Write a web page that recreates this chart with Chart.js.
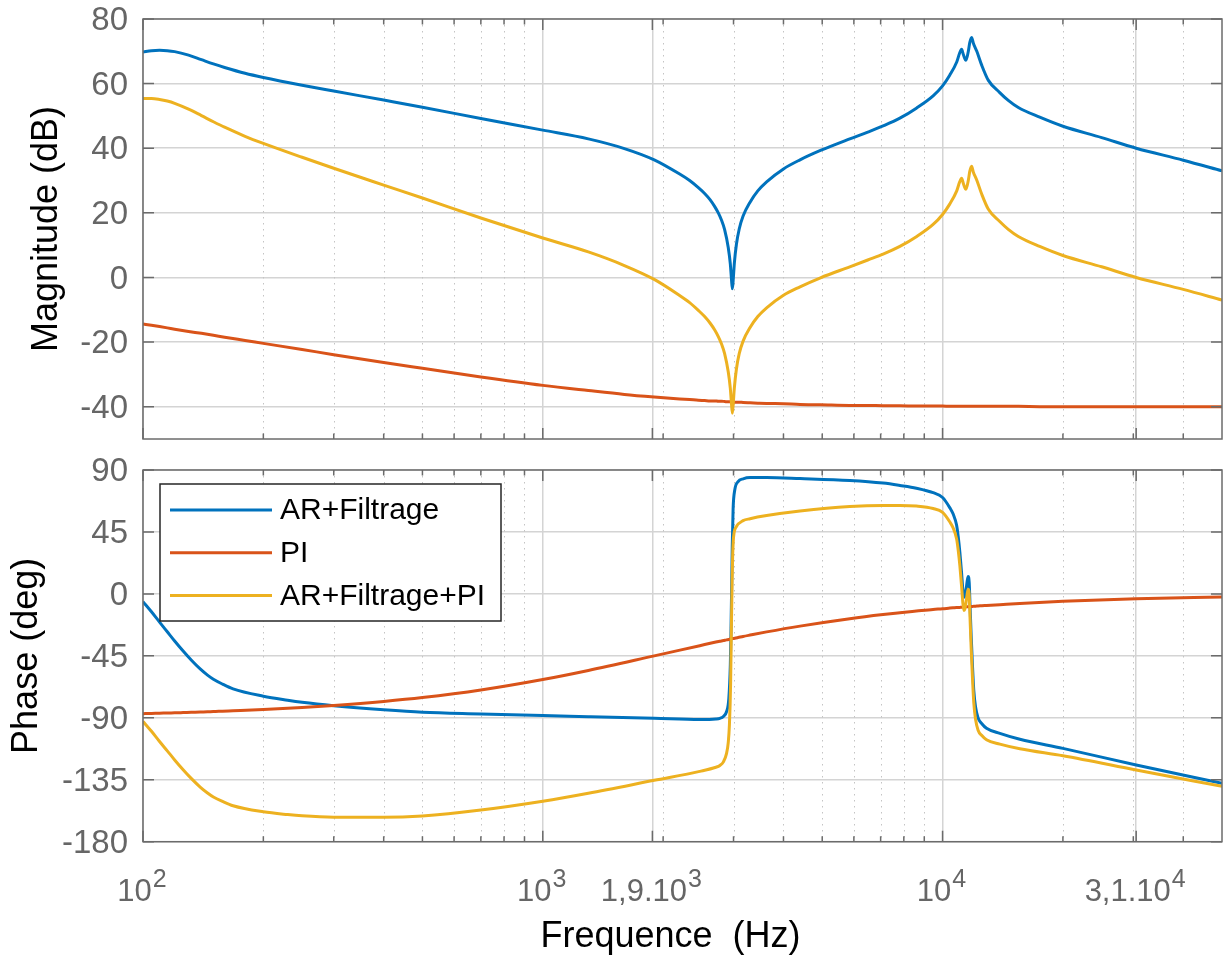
<!DOCTYPE html>
<html>
<head>
<meta charset="utf-8">
<script src="https://cdn.jsdelivr.net/npm/chart.js@4.4.0/dist/chart.umd.min.js"></script>
<style>
  body { margin: 0; background: #fff; }
  #wrap { position: relative; width: 1223px; height: 956px; }
  #magChart { position: absolute; left: 0; top: 0; }
  #phaseChart { position: absolute; left: 0; top: 452px; }
</style>
</head>
<body>
<div id="wrap">
  <canvas id="magChart" width="1223" height="452"></canvas>
  <canvas id="phaseChart" width="1223" height="504"></canvas>
</div>
<script>
// ---- data ----
const seriesNames = ["AR+Filtrage", "PI", "AR+Filtrage+PI"];
const seriesColors = ["#0072BD", "#D95319", "#EDB120"];

// magnitude (dB)
const magFreq = [100, 105, 110, 115, 120, 130, 140, 150, 160, 180, 200, 250, 300, 400, 500,
  700, 1000, 1300, 1600, 1900, 2200, 2330, 2450, 2540, 2620, 2690, 2750, 2800, 2850, 2910,
  2945, 2965, 2980, 2995, 3015, 3050, 3100, 3170, 3300, 3450, 3630, 4000, 4400, 4950, 5860,
  6500, 7100, 7820, 8600, 9470, 10000, 10420, 10850, 11030, 11160, 11270, 11440, 11600, 11700, 11820,
  11940, 12180, 12520, 13020, 13880, 14600, 15470, 17500, 20000, 25000, 30500, 40000, 50000];
const magAR = [69.8, 70.2, 70.3, 70.2, 69.9, 68.8, 67.4, 66.1, 65.0, 63.2, 61.9, 59.5, 57.7, 54.9, 52.7,
  49.2, 45.6, 42.9, 39.9, 36.4, 32.0, 30.0, 27.8, 26.0, 24.1, 22.0, 19.9, 17.7, 14.8, 9.3,
  4.2, -0.6, -3.5, -0.6, 4.6, 10.2, 15.0, 19.0, 23.3, 26.8, 29.6, 33.6, 36.4, 39.3, 42.9,
  45.0, 46.9, 49.3, 52.4, 56.2, 59.3, 62.6, 66.7, 69.4, 70.6, 69.0, 67.2, 70.0, 72.8, 74.3,
  72.5, 70.0, 65.8, 61.0, 57.3, 54.8, 52.6, 49.6, 46.8, 43.3, 40.0, 36.3, 33.0];
const magPI = [-14.4, -14.8, -15.2, -15.6, -16.0, -16.7, -17.3, -17.9, -18.5, -19.5, -20.4, -22.3, -23.9, -26.3, -28.1,
  -30.8, -33.4, -35.0, -36.2, -37.0, -37.6, -37.8, -38.0, -38.1, -38.2, -38.2, -38.3, -38.3, -38.4, -38.5,
  -38.5, -38.5, -38.5, -38.5, -38.6, -38.6, -38.6, -38.7, -38.8, -38.9, -39.0, -39.1, -39.3, -39.4, -39.6,
  -39.6, -39.7, -39.7, -39.8, -39.8, -39.8, -39.9, -39.9, -39.9, -39.9, -39.9, -39.9, -39.9, -39.9, -39.9,
  -39.9, -39.9, -39.9, -39.9, -39.9, -39.9, -39.9, -40.0, -40.0, -40.0, -40.0, -40.0, -40.0];
const magTotal = [55.4, 55.4, 55.1, 54.6, 53.9, 52.1, 50.1, 48.2, 46.5, 43.7, 41.5, 37.2, 33.8, 28.6, 24.6,
  18.4, 12.2, 7.9, 3.7, -0.6, -5.6, -7.8, -10.2, -12.1, -14.1, -16.2, -18.4, -20.6, -23.6, -29.2,
  -34.3, -39.1, -42.0, -39.1, -34.0, -28.4, -23.6, -19.7, -15.5, -12.1, -9.4, -5.5, -2.9, -0.1, 3.3,
  5.4, 7.2, 9.6, 12.6, 16.4, 19.5, 22.7, 26.8, 29.5, 30.7, 29.1, 27.3, 30.1, 32.9, 34.4,
  32.6, 30.1, 25.9, 21.1, 17.4, 14.9, 12.7, 9.6, 6.8, 3.3, 0.0, -3.7, -7.0];

// phase (deg)
const phaseFreq = [100, 105, 110, 115, 120, 126, 132, 139, 145, 150, 158, 168, 200, 230, 250,
  300, 400, 500, 700, 1000, 1300, 1900, 2470, 2710, 2773, 2830, 2881, 2920, 2945, 2955,
  2966, 2978, 2993, 3022, 3080, 3170, 3300, 3630, 4400, 5860, 7100, 7820, 8600, 9470, 10000,
  10430, 10630, 10840, 10940, 11050, 11160, 11240, 11310, 11370, 11460, 11520, 11590, 11660, 11720, 11790,
  11880, 11970, 12090, 12270, 12540, 12880, 13910, 15610, 20000, 30500, 50000];
const phaseAR = [-5.6, -13.0, -20.5, -27.5, -34.2, -41.5, -48.0, -54.5, -59.0, -62.0, -65.5, -69.0, -74.3, -77.2, -78.7,
  -81.2, -84.2, -86.0, -87.2, -88.4, -89.2, -90.4, -91.3, -90.9, -90.4, -89.0, -85.6, -75.8, -51.6, -30.0,
  0.0, 35.0, 62.0, 75.6, 81.6, 83.6, 84.5, 84.5, 83.8, 82.4, 80.5, 78.8, 76.8, 73.5, 70.0,
  62.5, 58.0, 50.0, 42.0, 30.0, 15.0, 3.0, -2.5, -1.5, 4.0, 9.0, 12.6, 8.0, -10.0, -30.0,
  -52.0, -70.0, -82.0, -90.2, -94.3, -97.6, -101.3, -105.6, -112.2, -124.3, -137.6];
const phasePI = [-87.0, -86.8, -86.7, -86.5, -86.4, -86.2, -86.0, -85.8, -85.6, -85.5, -85.2, -84.9, -84.0, -83.1, -82.5,
  -81.0, -78.1, -75.3, -69.8, -62.2, -55.6, -45.0, -37.6, -35.0, -34.4, -33.9, -33.4, -33.1, -32.8, -32.7,
  -32.6, -32.5, -32.4, -32.2, -31.7, -30.9, -29.9, -27.6, -23.4, -18.0, -15.0, -13.7, -12.5, -11.3, -10.8,
  -10.3, -10.1, -9.9, -9.9, -9.8, -9.7, -9.6, -9.5, -9.5, -9.4, -9.4, -9.3, -9.3, -9.2, -9.2,
  -9.1, -9.0, -8.9, -8.8, -8.6, -8.4, -7.8, -6.9, -5.4, -3.6, -2.2];
const phaseFreqTotal = [100, 105, 110, 115, 120, 126, 132, 139, 145, 150, 158, 168, 200, 230, 250,
  300, 400, 500, 700, 1000, 1300, 1900, 2470, 2710, 2773, 2830, 2881, 2910, 2930, 2950,
  2963, 2975, 2985, 2995, 3010, 3051, 3170, 3300, 3630, 4400, 5860, 7100, 7820, 8600, 9470,
  10000, 10430, 10630, 10840, 10940, 11050, 11160, 11240, 11310, 11370, 11460, 11520, 11590, 11660, 11720,
  11790, 11880, 11970, 12090, 12270, 12540, 12880, 13910, 15610, 20000, 30500, 50000];
const phaseTotal = [-92.6, -99.8, -107.2, -114.0, -120.6, -127.7, -134.0, -140.3, -144.6, -147.5, -150.7, -153.9, -158.3, -160.3, -161.2,
  -162.2, -162.3, -161.3, -157.0, -150.6, -144.8, -135.4, -128.9, -125.9, -124.6, -122.0, -116.0, -108.0, -95.0, -65.0,
  -25.0, 8.0, 28.0, 38.0, 44.5, 49.0, 53.2, 54.6, 56.9, 60.2, 63.5, 64.3, 64.3, 63.8, 62.0,
  59.2, 52.2, 47.9, 40.1, 32.1, 20.2, 5.3, -6.6, -12.0, -11.0, -5.4, -0.4, 3.3, -1.3, -19.2,
  -39.2, -61.1, -79.0, -90.9, -99.0, -102.9, -106.0, -109.1, -112.5, -117.6, -127.9, -139.8];

// axis ticks
const freqTicks = [100, 1000, 1880, 10000, 30500];
const freqTickBase = ["10", "10", "1,9.10", "10", "3,1.10"];
const freqTickExp = ["2", "3", "3", "4", "4"];
const magTicks = [-40, -20, 0, 20, 40, 60, 80];
const phaseTicks = [-180, -135, -90, -45, 0, 45, 90];

// minor log ticks 2..9 per decade
const minorFreq = [];
for (let d = 100; d < 50000; d *= 10) {
  for (let m = 2; m <= 9; m++) {
    if (d * m < 50000) minorFreq.push(d * m);
  }
}

const family = "'Liberation Sans', Arial, Helvetica, sans-serif";
const tickColor = "#666666";
const frameColor = "#6b6b6b";
const gridColor = "#d4d4d4";
Chart.defaults.font.family = family;

function points(xs, ys) {
  return xs.map((x, i) => ({ x: x, y: ys[i] }));
}

function series(i, xs, ys) {
  return {
    label: seriesNames[i],
    data: points(xs, ys),
    borderColor: seriesColors[i],
    backgroundColor: seriesColors[i],
    order: 3 - i
  };
}

// box, inward ticks and dotted minor grid (MATLAB style)
const framePlugin = {
  id: "frame",
  beforeDatasetsDraw(chart) {
    const { ctx, chartArea: a } = chart;
    const x = chart.scales.x;
    ctx.save();
    ctx.strokeStyle = "#c4c4c4";
    ctx.lineWidth = 1;
    ctx.setLineDash([1.5, 4.5]);
    minorFreq.forEach(f => {
      const px = Math.round(x.getPixelForValue(f)) + 0.5;
      ctx.beginPath();
      ctx.moveTo(px, a.top);
      ctx.lineTo(px, a.bottom);
      ctx.stroke();
    });
    ctx.restore();
  },
  afterDatasetsDraw(chart) {
    const { ctx, chartArea: a } = chart;
    const x = chart.scales.x, y = chart.scales.y;
    ctx.save();
    ctx.strokeStyle = frameColor;
    ctx.lineWidth = 1.5;
    ctx.beginPath();
    freqTicks.forEach(f => {
      const px = x.getPixelForValue(f);
      ctx.moveTo(px, a.bottom); ctx.lineTo(px, a.bottom - 11);
      ctx.moveTo(px, a.top); ctx.lineTo(px, a.top + 11);
    });
    minorFreq.forEach(f => {
      const px = x.getPixelForValue(f);
      ctx.moveTo(px, a.bottom); ctx.lineTo(px, a.bottom - 5.5);
      ctx.moveTo(px, a.top); ctx.lineTo(px, a.top + 5.5);
    });
    y.ticks.forEach(t => {
      const py = y.getPixelForValue(t.value);
      ctx.moveTo(a.left, py); ctx.lineTo(a.left + 11, py);
      ctx.moveTo(a.right, py); ctx.lineTo(a.right - 11, py);
    });
    ctx.stroke();
    ctx.strokeRect(a.left, a.top, a.right - a.left, a.bottom - a.top);
    ctx.restore();
  }
};

// boxed legend in the top-left of the phase plot
const legendPlugin = {
  id: "boxLegend",
  afterDatasetsDraw(chart) {
    const ctx = chart.ctx;
    ctx.save();
    ctx.fillStyle = "#fff";
    ctx.fillRect(160, 32, 341, 137);
    ctx.strokeStyle = "#262626";
    ctx.lineWidth = 1.5;
    ctx.strokeRect(160, 32, 341, 137);
    ctx.font = "30px " + family;
    ctx.textBaseline = "middle";
    ctx.textAlign = "left";
    chart.data.datasets.forEach((ds, i) => {
      const yy = 58 + i * 42.7;
      ctx.strokeStyle = ds.borderColor;
      ctx.lineWidth = 3;
      ctx.beginPath();
      ctx.moveTo(170, yy);
      ctx.lineTo(272, yy);
      ctx.stroke();
      ctx.fillStyle = "#000";
      ctx.fillText(ds.label, 280, yy + 1);
    });
    ctx.restore();
  }
};

// x tick labels with exponents, and x axis title
const xLabelPlugin = {
  id: "xLabels",
  afterDraw(chart) {
    const { ctx, chartArea: a } = chart;
    const x = chart.scales.x;
    ctx.save();
    ctx.textBaseline = "alphabetic";
    ctx.textAlign = "left";
    ctx.fillStyle = tickColor;
    freqTicks.forEach((f, i) => {
      ctx.font = "31px " + family;
      const wb = ctx.measureText(freqTickBase[i]).width;
      ctx.font = "25px " + family;
      const ws = ctx.measureText(freqTickExp[i]).width;
      const left = x.getPixelForValue(f) - (wb + ws + 1) / 2 - 1;
      ctx.font = "31px " + family;
      ctx.fillText(freqTickBase[i], left, a.bottom + 59);
      ctx.font = "25px " + family;
      ctx.fillText(freqTickExp[i], left + wb + 1, a.bottom + 45);
    });
    ctx.font = "36px " + family;
    ctx.fillStyle = "#000";
    ctx.textAlign = "center";
    ctx.fillText("Frequence  (Hz)", (a.left + a.right) / 2 - 12, a.bottom + 105);
    ctx.restore();
  }
};

function makeChart(id, cfg) {
  return new Chart(document.getElementById(id), {
    type: "line",
    data: { datasets: cfg.datasets },
    options: {
      responsive: false,
      animation: false,
      events: [],
      layout: { padding: { top: cfg.padTop, right: 1, bottom: 0, left: 0 } },
      plugins: { legend: { display: false }, tooltip: { enabled: false } },
      elements: {
        point: { radius: 0 },
        line: { borderWidth: 3, cubicInterpolationMode: "monotone", borderJoinStyle: "round" }
      },
      scales: {
        x: {
          type: "logarithmic",
          min: 100,
          max: 50000,
          afterBuildTicks: s => { s.ticks = freqTicks.map(v => ({ value: v })); },
          afterFit: s => { s.height = cfg.xHeight; s.paddingLeft = 0; s.paddingRight = 0; },
          ticks: { display: false },
          grid: { color: gridColor, lineWidth: 1.5, drawTicks: false },
          border: { display: false }
        },
        y: {
          min: cfg.yMin,
          max: cfg.yMax,
          afterBuildTicks: s => { s.ticks = cfg.yTicks.map(v => ({ value: v })); },
          afterFit: s => { s.width = 143; s.paddingTop = 0; s.paddingBottom = 0; },
          ticks: { color: tickColor, font: { size: 33 }, padding: 15, labelOffset: 2, callback: v => String(v) },
          grid: { color: gridColor, lineWidth: 1.5, drawTicks: false },
          border: { display: false },
          title: {
            display: true,
            text: cfg.yTitle,
            color: "#000",
            font: { size: 36, lineHeight: 1 },
            padding: { top: cfg.titlePad, bottom: 0 }
          }
        }
      }
    },
    plugins: cfg.plugins
  });
}

makeChart("magChart", {
  datasets: [series(0, magFreq, magAR), series(1, magFreq, magPI), series(2, magFreq, magTotal)],
  padTop: 19, xHeight: 13,
  yMin: -50, yMax: 80, yTicks: magTicks,
  yTitle: "Magnitude (dB)", titlePad: 29,
  plugins: [framePlugin]
});

makeChart("phaseChart", {
  datasets: [series(0, phaseFreq, phaseAR), series(1, phaseFreq, phasePI), series(2, phaseFreqTotal, phaseTotal)],
  padTop: 18, xHeight: 114.3,
  yMin: -180, yMax: 90, yTicks: phaseTicks,
  yTitle: "Phase (deg)", titlePad: 9,
  plugins: [framePlugin, legendPlugin, xLabelPlugin]
});
</script>
</body>
</html>
